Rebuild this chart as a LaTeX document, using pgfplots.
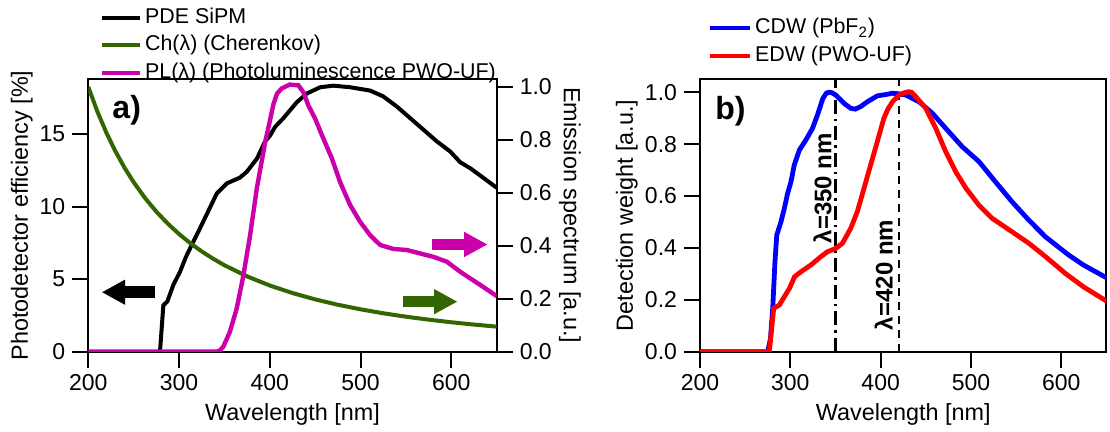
\documentclass[border=0pt]{standalone}
\usepackage{fontspec}
\setmainfont{Liberation Sans}
\usepackage{pgfplots}
\pgfplotsset{compat=1.18}
\usetikzlibrary{arrows.meta}

\definecolor{chgreen}{RGB}{51,102,0}
\definecolor{plmag}{RGB}{204,0,170}

\pgfplotsset{
  panel/.style={
    scale only axis,
    height=136.35pt,
    xmin=200, xmax=650,
    xtick={200,300,400,500,600},
    axis line style={line width=1pt},
    every tick/.style={black, line width=1pt},
    major tick length=8pt,
    tick align=outside,
    tick label style={font=\fontsize{11.5}{13}\selectfont},
    label style={font=\fontsize{11.7}{14}\selectfont},
    /pgf/number format/assume math mode=true,
    xlabel={Wavelength [nm]},
    xlabel style={at={(axis description cs:0.5,-0.2285)}, anchor=center},
    legend style={draw=none, fill=none, font=\fontsize{10.7}{12}\selectfont,
      nodes={inner sep=1.5pt, text height=8pt, text depth=2.5pt},
      row sep=0.25pt},
    legend cell align=left,
  },
  onedec/.style={yticklabel style={/pgf/number format/.cd, fixed, fixed zerofill, precision=1}},
}

\begin{document}
\begin{tikzpicture}
\useasboundingbox (0,0) rectangle (555pt,216pt);

% ---------- panel a, left axis: PDE ----------
\begin{axis}[panel,
  at={(44.15pt,40.15pt)}, anchor=south west, width=204.2pt,
  ymin=0, ymax=18.8, ytick={0,5,10,15},
  xtick pos=left, ytick pos=left,
  ylabel={Photodetector efficiency [\%]},
  ylabel style={at={(axis description cs:-0.163,0.5)}, anchor=center},
]
\addplot[black, line width=2pt] coordinates {
  (279,0) (282.7,3.2) (287,3.45) (293.7,4.6) (301,5.5) (307.7,6.55) (314,7.36)
  (323,8.5) (332,9.66) (341.5,10.9) (352.6,11.6) (367,12.0) (374.6,12.4)
  (385.7,13.3) (394.8,14.5) (400.3,14.9) (405.8,15.5) (415,16.1) (429.8,17.2)
  (440.8,17.8) (455.5,18.23) (470,18.34) (488.5,18.23) (510.6,18.0) (525,17.6)
  (540,16.9) (554.7,16.1) (569.4,15.3) (584,14.5) (598.8,13.8) (604,13.45)
  (609.8,13.06) (620.8,12.65) (635,12.0) (650,11.3)
};
\draw[black, line width=5.8pt, -{Triangle[length=11.7pt, width=11.7pt]}]
  (axis cs:273.5,4.1) -- (axis cs:214.8,4.1);
\node[font=\fontsize{16}{18}\selectfont\bfseries] at (axis cs:242.3,16.67) {a)};
\end{axis}

% ---------- panel a, right axis: emission ----------
\begin{axis}[panel, onedec,
  at={(44.15pt,40.15pt)}, anchor=south west, width=204.2pt,
  hide x axis,
  ymin=0, ymax=1.03, ytick={0,0.2,0.4,0.6,0.8,1.0},
  ytick pos=right, yticklabel pos=right,
  ylabel={Emission spectrum [a.u.]},
  ylabel style={at={(axis description cs:1.1795,0.5)}, anchor=center, rotate=180},
  legend style={at={(axis description cs:0.0122,1.2897)}, anchor=north west},
  legend image code/.code={\draw[#1, line width=2pt] (0pt,0pt) -- (19.2pt,0pt);},
]
\addlegendimage{black}
\addlegendentry{PDE SiPM}
\addplot[chgreen, line width=2pt] coordinates {
  (200,1.0) (210,0.9070) (220,0.8264) (230,0.7561) (240,0.6944) (250,0.64)
  (262.5,0.5805) (275,0.5289) (287.5,0.4839) (300,0.4444) (312.5,0.4096)
  (325,0.3787) (337.5,0.3512) (350,0.3265) (375,0.2844) (400,0.25)
  (425,0.2215) (450,0.1975) (475,0.1773) (500,0.16) (525,0.1451)
  (550,0.1322) (575,0.1210) (600,0.1111) (625,0.1024) (650,0.0947)
};
\addlegendentry{Ch(λ) (Cherenkov)}
\addplot[plmag, line width=2.2pt] coordinates {
  (200,0) (341.5,0) (345,0.005) (348.8,0.019) (356,0.075) (363.6,0.164)
  (371,0.29) (378.3,0.44) (385.7,0.617) (394.8,0.79) (400,0.87) (404,0.935)
  (408,0.975) (413,0.994) (422,1.009) (431.5,1.006) (437,0.98) (442.5,0.93)
  (450,0.88) (459,0.805) (468.4,0.73) (477.5,0.64) (488.5,0.554) (499.6,0.49)
  (510.6,0.44) (521.6,0.403) (536.3,0.388) (551,0.384) (565.7,0.371)
  (580.4,0.358) (595,0.34) (609.8,0.302) (620.8,0.277) (635,0.245) (650,0.21)
};
\addlegendentry{PL(λ) (Photoluminescence PWO-UF)}
\draw[plmag, line width=5.8pt, -{Triangle[length=11.7pt, width=11.7pt]}]
  (axis cs:578.6,0.405) -- (axis cs:640,0.405);
\draw[chgreen, line width=5.8pt, -{Triangle[length=11.7pt, width=11.7pt]}]
  (axis cs:546.6,0.189) -- (axis cs:606.8,0.189);
\end{axis}

% ---------- panel b ----------
\begin{axis}[panel, onedec,
  at={(350pt,40.15pt)}, anchor=south west, width=203.25pt,
  ymin=0, ymax=1.051, ytick={0,0.2,0.4,0.6,0.8,1.0},
  xtick pos=left, ytick pos=left,
  ylabel={Detection weight [a.u.]},
  ylabel style={at={(axis description cs:-0.1803,0.5)}, anchor=center},
  legend style={at={(axis description cs:0.0042,1.2512)}, anchor=north west},
  legend image code/.code={\draw[#1, line width=2pt] (0pt,0pt) -- (20pt,0pt);},
]
\addplot[black, line width=1.1pt, dash pattern=on 7pt off 2.5pt on 1.2pt off 2.5pt, forget plot]
  coordinates {(350,0) (350,1.051)};
\addplot[black, line width=1.1pt, dash pattern=on 4pt off 3pt, forget plot]
  coordinates {(420,0) (420,1.051)};
\addplot[blue, line width=2.4pt] coordinates {
  (200,0) (275,0) (278,0.05) (280.5,0.167) (283,0.347) (285,0.45) (289.6,0.50)
  (293.4,0.553) (297,0.61) (300.7,0.655) (304.4,0.72) (310,0.777) (317.2,0.816)
  (324.6,0.861) (330,0.912) (336,0.976) (340,0.997) (343,1.0) (346,0.998)
  (350.3,0.989) (359.5,0.957) (366.8,0.938) (372,0.935) (378,0.945)
  (385.2,0.963) (396.3,0.986) (407.3,0.992) (413,0.996) (420,0.994)
  (427.9,0.989) (442.6,0.963) (457.2,0.919) (472,0.861) (490.3,0.79)
  (509,0.732) (527,0.655) (545.4,0.578) (564,0.507) (582.3,0.443)
  (598.8,0.398) (608,0.373) (624.5,0.334) (650,0.285)
};
\addlegendentry{CDW (PbF\textsubscript{2})}
\addplot[red, line width=2.4pt] coordinates {
  (200,0) (276.8,0) (278.6,0.064) (281.6,0.167) (287.9,0.18) (293.4,0.212)
  (299,0.244) (304.7,0.289) (311.7,0.308) (322.7,0.334) (333.7,0.366)
  (341,0.385) (350.3,0.398) (357.7,0.418) (366.8,0.475) (374.2,0.54)
  (381.6,0.63) (388.9,0.72) (396.3,0.81) (403.6,0.9) (408,0.935) (413.1,0.963)
  (420.5,0.989) (426,0.998) (431.5,1.002) (434,1.0) (438.9,0.983) (450,0.938)
  (461,0.861) (472,0.771) (483,0.694) (494.4,0.63) (508.7,0.565) (523.4,0.514)
  (545.5,0.462) (564,0.418) (582.6,0.366) (604.3,0.302) (624.5,0.25) (650,0.195)
};
\addlegendentry{EDW (PWO-UF)}
\node[font=\fontsize{16}{18}\selectfont\bfseries] at (axis cs:233.6,0.928) {b)};
\node[rotate=90, font=\fontsize{12}{14}\selectfont\bfseries] at (axis cs:335.6,0.63) {λ=350 nm};
\node[rotate=90, font=\fontsize{12}{14}\selectfont\bfseries] at (axis cs:403.4,0.2956) {λ=420 nm};
\end{axis}
\end{tikzpicture}
\end{document}
